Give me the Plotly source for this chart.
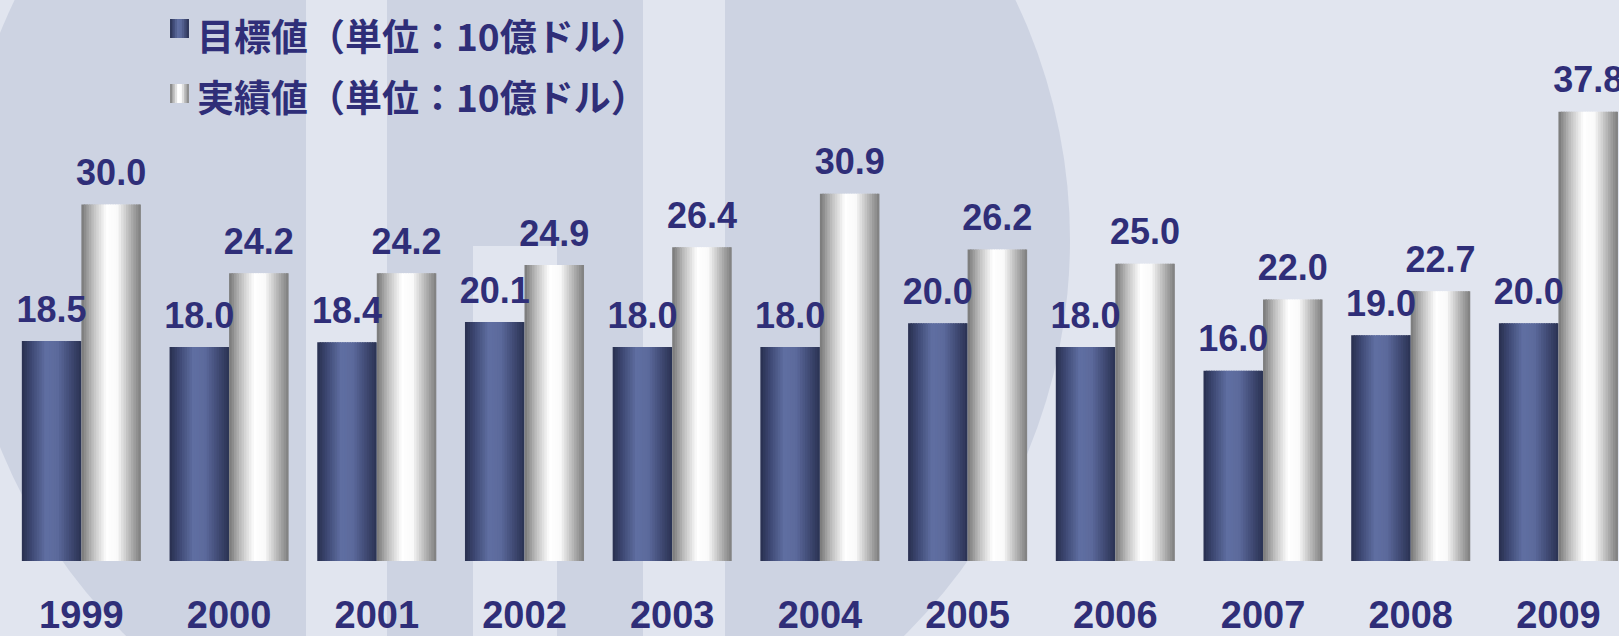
import plotly.graph_objects as go

# ---- data ----
years = ["1999", "2000", "2001", "2002", "2003", "2004", "2005", "2006", "2007", "2008", "2009"]
target = [18.5, 18.0, 18.4, 20.1, 18.0, 18.0, 20.0, 18.0, 16.0, 19.0, 20.0]
actual = [30.0, 24.2, 24.2, 24.9, 26.4, 30.9, 26.2, 25.0, 22.0, 22.7, 37.8]
series_names = ["目標値（単位：10億ドル）", "実績値（単位：10億ドル）"]

# ---- style ----
W, H = 1619, 636
ML, MB = 9, 75
LABEL_COLOR = "#2f2e78"
BG_LIGHT = "#e1e5ef"
BG_DARK = "#cdd3e2"
BAR_W = 0.403
N_SLICES = 24

target_stops = [(0.0, (40, 47, 78)), (0.15, (60, 70, 112)), (0.4, (96, 111, 162)),
                (0.6, (92, 106, 156)), (0.85, (60, 70, 110)), (1.0, (42, 50, 82))]
actual_stops = [(0.0, (118, 118, 118)), (0.2, (192, 192, 192)), (0.42, (255, 255, 255)),
                (0.6, (250, 250, 250)), (0.85, (170, 170, 170)), (1.0, (125, 125, 125))]


def grad(stops, t):
    for (t0, c0), (t1, c1) in zip(stops[:-1], stops[1:]):
        if t <= t1:
            f = (t - t0) / (t1 - t0) if t1 > t0 else 0
            c = [round(a + (b - a) * f) for a, b in zip(c0, c1)]
            return "rgb(%d,%d,%d)" % tuple(c)
    return "rgb(%d,%d,%d)" % stops[-1][1]


xs = list(range(len(years)))
fig = go.Figure()


def add_bars(values, base_offset, stops, z):
    step = BAR_W / N_SLICES
    for k in range(N_SLICES):
        t = (k + 0.5) / N_SLICES
        width = step * 1.6 if k < N_SLICES - 1 else step
        fig.add_trace(go.Bar(
            x=xs, y=values, offset=base_offset + k * step, width=width,
            marker=dict(color=grad(stops, t), line=dict(width=0)),
            showlegend=False, hoverinfo="skip", zorder=z,
        ))


def add_labels(values, shift, z):
    fig.add_trace(go.Scatter(
        x=[x + shift for x in xs], y=values, mode="markers+text",
        text=["%.1f" % v for v in values], textposition="top center",
        marker=dict(size=15, color="rgba(0,0,0,0)"),
        textfont=dict(family="Liberation Sans, Arial, sans-serif", size=36,
                      color=LABEL_COLOR, weight="bold"),
        showlegend=False, hoverinfo="skip", cliponaxis=False, zorder=z,
    ))


add_bars(target, -BAR_W, target_stops, 0)
add_bars(actual, 0.0, actual_stops, 1)
add_labels(target, -BAR_W / 2, 2)
add_labels(actual, BAR_W / 2, 2)

# ---- background watermark shapes (pixel -> paper conversion) ----
PW, PH = W - ML, H - MB


def px(x):
    return (x - ML) / PW


def py(y):
    return (PH - y) / PH


shapes = [
    dict(type="circle", xref="paper", yref="paper", layer="below",
         x0=px(-40), x1=px(1070), y0=py(795), y1=py(-315),
         fillcolor=BG_DARK, line=dict(width=0)),
    dict(type="rect", xref="paper", yref="paper", layer="below",
         x0=px(306), x1=px(387), y0=py(H), y1=py(0), fillcolor=BG_LIGHT, line=dict(width=0)),
    dict(type="rect", xref="paper", yref="paper", layer="below",
         x0=px(643), x1=px(725), y0=py(H), y1=py(0), fillcolor=BG_LIGHT, line=dict(width=0)),
    dict(type="rect", xref="paper", yref="paper", layer="below",
         x0=px(473), x1=px(557), y0=py(H), y1=py(246), fillcolor=BG_LIGHT, line=dict(width=0)),
]

# legend icons + text
icon_specs = [(target_stops, 19, 38), (actual_stops, 84, 103)]
for stops, y0, y1 in icon_specs:
    n = 8
    for k in range(n):
        xa = 170 + k * 19 / n
        xb = 170 + (k + 1.3) * 19 / n if k < n - 1 else 189
        shapes.append(dict(type="rect", xref="paper", yref="paper", layer="above",
                           x0=px(xa), x1=px(xb), y0=py(y1), y1=py(y0),
                           fillcolor=grad(stops, (k + 0.5) / n), line=dict(width=0)))

annotations = []
for name, cy in zip(series_names, [35, 96]):
    annotations.append(dict(
        xref="paper", yref="paper", x=px(195), y=py(cy), xanchor="left", yanchor="middle",
        text=name, showarrow=False,
        font=dict(family="Noto Sans CJK JP, sans-serif", size=37, color=LABEL_COLOR, weight="bold"),
    ))

y_top = PH / 11.887

fig.update_layout(
    width=W, height=H,
    margin=dict(l=ML, r=0, t=0, b=MB, autoexpand=False),
    paper_bgcolor=BG_LIGHT, plot_bgcolor="rgba(0,0,0,0)",
    barmode="overlay", showlegend=False,
    shapes=shapes, annotations=annotations,
    xaxis=dict(range=[-0.49, 10.41], tickvals=xs, ticktext=years, automargin=False,
               showgrid=False, zeroline=False, showline=True, linecolor="#4b4f88", linewidth=1.5,
               ticks="outside", ticklen=20, tickcolor="rgba(0,0,0,0)",
               tickfont=dict(family="Liberation Sans, Arial, sans-serif", size=38,
                             color=LABEL_COLOR, weight="bold")),
    yaxis=dict(range=[0, y_top], visible=False, showgrid=False, zeroline=False, automargin=False),
)

fig.write_html("out.html", config={"displayModeBar": False},
               post_script="document.body.style.margin='0';document.body.style.overflow='hidden';")
